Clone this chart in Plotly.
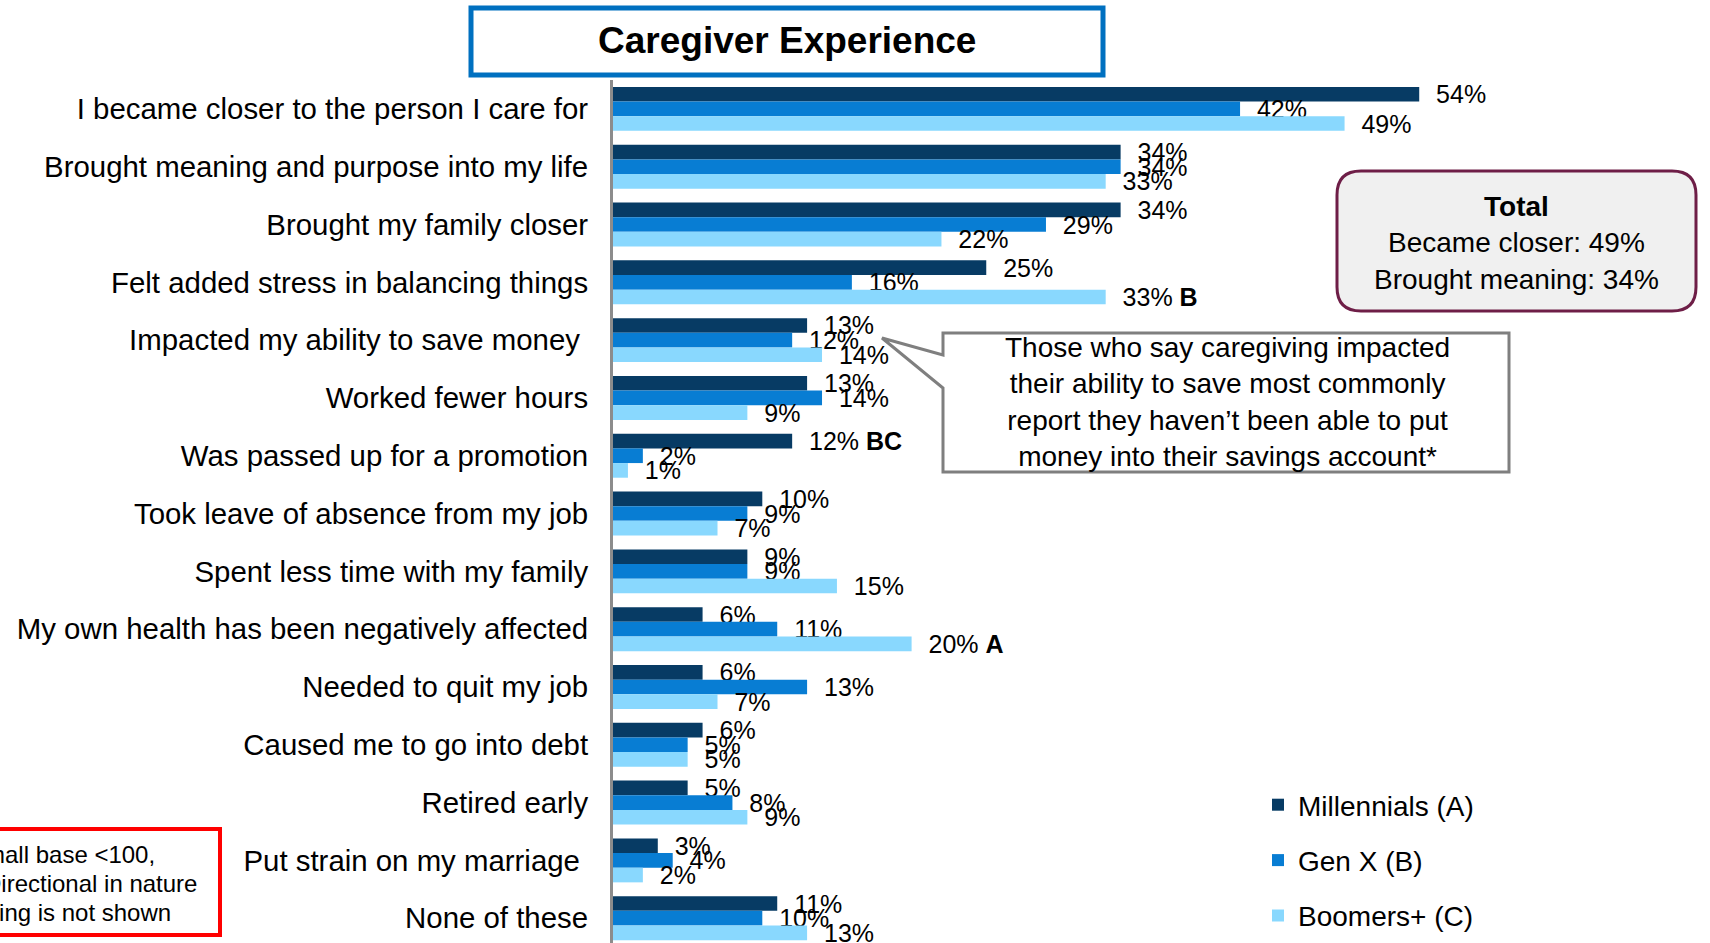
import plotly.graph_objects as go

W, H = 1710, 943
FONT = "Liberation Sans, Arial, Helvetica, sans-serif"

categories = [
    "I became closer to the person I care for",
    "Brought meaning and purpose into my life",
    "Brought my family closer",
    "Felt added stress in balancing things",
    "Impacted my ability to save money\u00a0",
    "Worked fewer hours",
    "Was passed up for a promotion",
    "Took leave of absence from my job",
    "Spent less time with my family",
    "My own health has been negatively affected",
    "Needed to quit my job",
    "Caused me to go into debt",
    "Retired early",
    "Put strain on my marriage\u00a0",
    "None of these",
]

series_names = ["Millennials (A)", "Gen X (B)", "Boomers+ (C)"]
millennials = [54, 34, 34, 25, 13, 13, 12, 10, 9, 6, 6, 6, 5, 3, 11]
genx = [42, 34, 29, 16, 12, 14, 2, 9, 9, 11, 13, 5, 8, 4, 10]
boomers = [49, 33, 22, 33, 14, 9, 1, 7, 15, 20, 7, 5, 9, 2, 13]

# significance letters shown after the values
millennials_sig = ["", "", "", "", "", "", "BC", "", "", "", "", "", "", "", ""]
genx_sig = [""] * 15
boomers_sig = ["", "", "", "B", "", "", "", "", "", "A", "", "", "", "", ""]

colors = ["#073B64", "#087DD3", "#89D8FE"]


def px(x):
    return x / W


def py(y):
    return 1 - y / H


def labels(vals, sig):
    out = []
    for v, s in zip(vals, sig):
        t = "\u00a0\u00a0%d%%" % v
        if s:
            t += " <b>%s</b>" % s
        out.append(t)
    return out


fig = go.Figure()
for name, vals, sig, col in zip(series_names, [millennials, genx, boomers],
                                [millennials_sig, genx_sig, boomers_sig], colors):
    fig.add_trace(go.Bar(
        y=categories, x=vals, name=name, orientation="h",
        marker=dict(color=col, line=dict(width=0)),
        text=labels(vals, sig), textposition="outside",
        textfont=dict(family=FONT, size=25, color="#000000"),
        cliponaxis=False, constraintext="none",
        legendgroup=name,
    ))

x0_pix = 613
scale = 14.93  # pixels per percent
top_pix = 80
pitch = 57.8
first_center = 109

shapes = []
# title box
shapes.append(dict(type="rect", xref="paper", yref="paper",
                   x0=px(471), x1=px(1103), y0=py(75), y1=py(8),
                   line=dict(color="#0070C0", width=5), fillcolor="white", layer="above"))


def rounded(x0, y0, x1, y1, r):
    pts = [
        ("M", [(x0 + r, y0)]),
        ("L", [(x1 - r, y0)]),
        ("Q", [(x1, y0), (x1, y0 + r)]),
        ("L", [(x1, y1 - r)]),
        ("Q", [(x1, y1), (x1 - r, y1)]),
        ("L", [(x0 + r, y1)]),
        ("Q", [(x0, y1), (x0, y1 - r)]),
        ("L", [(x0, y0 + r)]),
        ("Q", [(x0, y0), (x0 + r, y0)]),
    ]
    s = ""
    for cmd, ps in pts:
        s += cmd + " ".join("%.5f,%.5f" % (px(a), py(b)) for a, b in ps) + " "
    return s + "Z"


shapes.append(dict(type="path", xref="paper", yref="paper",
                   path=rounded(1337, 171, 1696, 311, 24),
                   line=dict(color="#6E1E47", width=3), fillcolor="#F0F0F0", layer="above"))

# callout with pointer
call = [(943, 333), (1509, 333), (1509, 472), (943, 472), (943, 388), (882, 338), (943, 355)]
path = "M" + " L".join("%.5f,%.5f" % (px(a), py(b)) for a, b in call) + " Z"
shapes.append(dict(type="path", xref="paper", yref="paper", path=path,
                   line=dict(color="#7F7F7F", width=3), fillcolor="white", layer="above"))

# red note box (partly off-canvas)
shapes.append(dict(type="rect", xref="paper", yref="paper",
                   x0=px(-20), x1=px(220), y0=py(935), y1=py(829),
                   line=dict(color="#FF0000", width=4), fillcolor="white", layer="above"))

annotations = []
annotations.append(dict(xref="paper", yref="paper", x=px(787), y=py(41),
                        text="<b>Caregiver Experience</b>", showarrow=False,
                        xanchor="center", yanchor="middle",
                        font=dict(family=FONT, size=37, color="#000000")))
annotations.append(dict(xref="paper", yref="paper", x=px(1516), y=py(243),
                        text="<b>Total</b><br>Became closer: 49%<br>Brought meaning: 34%",
                        showarrow=False, xanchor="center", yanchor="middle", align="center",
                        font=dict(family=FONT, size=28, color="#000000")))
annotations.append(dict(xref="paper", yref="paper", x=px(1227), y=py(402),
                        text="Those who say caregiving impacted<br>their ability to save most commonly<br>"
                             "report they haven\u2019t been able to put<br>money into their savings account*",
                        showarrow=False, xanchor="center", yanchor="middle", align="center",
                        font=dict(family=FONT, size=28, color="#000000")))
note_lines = ["Small base <100,", "Directional in nature", "Stat testing is not shown"]
note_ends = [157, 199, 173]
note_ys = [854, 883, 912]
for t, xe, yc in zip(note_lines, note_ends, note_ys):
    annotations.append(dict(xref="paper", yref="paper", x=px(xe), y=py(yc),
                            text=t.replace("<", "&lt;"), showarrow=False,
                            xanchor="right", yanchor="middle",
                            font=dict(family=FONT, size=24, color="#000000")))

fig.update_layout(
    width=W, height=H,
    margin=dict(l=0, r=0, t=0, b=0, pad=0),
    paper_bgcolor="white", plot_bgcolor="white",
    barmode="group", bargap=0.24, bargroupgap=0,
    font=dict(family=FONT, color="#000000"),
    shapes=shapes, annotations=annotations,
    showlegend=True,
    legend=dict(x=px(1258), y=py(780), xanchor="left", yanchor="top",
                font=dict(family=FONT, size=28, color="#000000"),
                bgcolor="rgba(0,0,0,0)", tracegroupgap=16, traceorder="grouped"),
    xaxis=dict(domain=[px(x0_pix), 1], range=[0, (W - x0_pix) / scale],
               visible=False, showgrid=False, zeroline=False),
    yaxis=dict(domain=[0, py(top_pix)],
               categoryorder="array", categoryarray=categories,
               range=[(H - first_center) / pitch, -0.5],
               showline=True, linecolor="#8C8C8C", linewidth=3,
               showgrid=False, zeroline=False, ticks="",
               ticklabelstandoff=16,
               tickfont=dict(family=FONT, size=29.4, color="#000000")),
)

fig.write_html("out.html", config={"displayModeBar": False},
               post_script="document.body.style.margin='0';document.body.style.overflow='hidden';")
